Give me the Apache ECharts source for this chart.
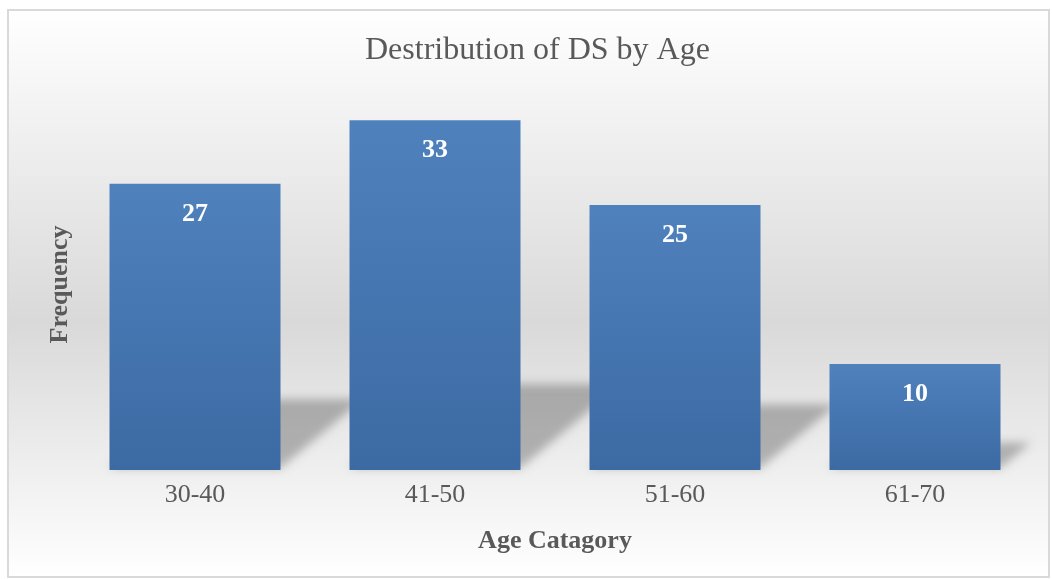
<!DOCTYPE html>
<html>
<head>
<meta charset="utf-8">
<title>Destribution of DS by Age</title>
<script src="https://cdn.jsdelivr.net/npm/echarts@6/dist/echarts.min.js"></script>
<style>
  html, body { margin: 0; padding: 0; background: #fff; }
  #chart { width: 1052px; height: 579px; }
</style>
</head>
<body>
<div id="chart"></div>
<script>
// data
const ageGroups = ['30-40', '41-50', '51-60', '61-70'];
const frequency = [27, 33, 25, 10];

const serif = '"Liberation Serif", "DejaVu Serif", serif';
const SHIFT = 1500; // shadow polygons drawn off-screen, only their blur shown

const chart = echarts.init(document.getElementById('chart'));

const option = {
    animation: false,
    backgroundColor: '#ffffff',
    graphic: [{
        type: 'rect',
        z: -10,
        silent: true,
        shape: { x: 8, y: 10, width: 1041, height: 567 },
        style: {
            fill: new echarts.graphic.LinearGradient(0, 0, 0, 1, [
                { offset: 0, color: '#ffffff' },
                { offset: 0.55, color: '#d9d9d9' },
                { offset: 1, color: '#ffffff' }
            ]),
            stroke: '#d9d9d9',
            lineWidth: 2
        }
    }],
    title: {
        text: 'Destribution of DS by Age',
        left: 360,
        top: 30,
        textStyle: {
            fontFamily: serif,
            fontSize: 32,
            fontWeight: 'normal',
            color: '#595959'
        }
    },
    grid: {
        left: 75,
        right: 17,
        top: 99,
        bottom: 109
    },
    xAxis: {
        type: 'category',
        data: ageGroups,
        name: 'Age Catagory',
        nameLocation: 'middle',
        nameGap: 58,
        nameTextStyle: {
            fontFamily: serif,
            fontSize: 26,
            fontWeight: 'bold',
            color: '#595959'
        },
        axisLine: { show: false },
        axisTick: { show: false },
        axisLabel: {
            margin: 12,
            fontFamily: serif,
            fontSize: 26,
            color: '#595959'
        }
    },
    yAxis: {
        type: 'value',
        min: 0,
        max: 35,
        name: 'Frequency',
        nameLocation: 'middle',
        nameGap: 2,
        nameTextStyle: {
            fontFamily: serif,
            fontSize: 26,
            fontWeight: 'bold',
            color: '#595959'
        },
        axisLine: { show: false },
        axisTick: { show: false },
        axisLabel: { show: false },
        splitLine: { show: false }
    },
    series: [
        {
            // soft perspective shadow cast behind each bar
            type: 'custom',
            z: 1,
            silent: true,
            clip: false,
            data: frequency.map((v, i) => [i, v]),
            renderItem: function (params, api) {
                const base = api.coord([api.value(0), 0]);
                const top = api.coord([api.value(0), api.value(1)]);
                const bw = api.size([1, 0])[0] * 0.7125;
                const h = (base[1] - top[1]) * 0.24;
                const skew = h * 1.2;
                const x0 = base[0] - bw / 2 - SHIFT;
                const x1 = base[0] + bw / 2 - SHIFT;
                const y = base[1] - 2;
                return {
                    type: 'polygon',
                    shape: {
                        points: [[x0, y], [x1, y], [x1 + skew, y - h], [x0 + skew, y - h]]
                    },
                    style: {
                        fill: '#000',
                        shadowBlur: 10,
                        shadowColor: 'rgba(0,0,0,0.26)',
                        shadowOffsetX: SHIFT
                    }
                };
            }
        },
        {
            type: 'bar',
            z: 2,
            data: frequency,
            barWidth: '71.25%',
            itemStyle: {
                color: new echarts.graphic.LinearGradient(0, 0, 0, 1, [
                    { offset: 0, color: '#4f81bd' },
                    { offset: 1, color: '#3c6aa3' }
                ])
            },
            label: {
                show: true,
                position: 'insideTop',
                distance: 17,
                fontFamily: serif,
                fontSize: 26,
                fontWeight: 'bold',
                color: '#ffffff'
            }
        }
    ]
};

chart.setOption(option);

window.addEventListener('resize', () => {
    chart.resize();
});
</script>
</body>
</html>
